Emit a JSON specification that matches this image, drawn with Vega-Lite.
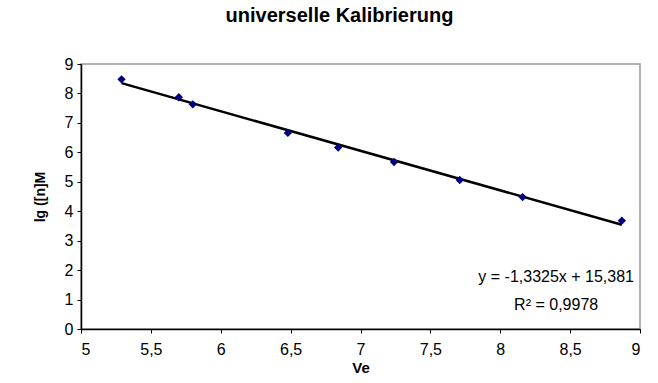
{
  "$schema": "https://vega.github.io/schema/vega-lite/v6.json",
  "width": 559,
  "height": 265,
  "autosize": {"type": "none"},
  "padding": {"left": 81, "top": 64, "right": 18, "bottom": 54},
  "background": "white",
  "title": {
    "text": "universelle Kalibrierung",
    "font": "Liberation Sans",
    "fontSize": 20,
    "fontWeight": "bold",
    "color": "black",
    "anchor": "middle",
    "frame": "group",
    "baseline": "alphabetic",
    "offset": 14,
    "dx": -21
  },
  "config": {
    "font": "Liberation Sans",
    "view": {"stroke": "#999999", "strokeWidth": 1.5},
    "axis": {
      "domainColor": "black",
      "domainWidth": 1.5,
      "tickColor": "black",
      "tickWidth": 1,
      "tickSize": 4,
      "grid": false,
      "labelColor": "black",
      "labelFont": "Liberation Sans",
      "titleFont": "Liberation Sans",
      "titleColor": "black",
      "titleFontWeight": "bold"
    }
  },
  "datasets": {
    "points": [
      {"Ve": 5.29, "lgM": 8.48},
      {"Ve": 5.70, "lgM": 7.87},
      {"Ve": 5.80, "lgM": 7.63},
      {"Ve": 6.48, "lgM": 6.66},
      {"Ve": 6.84, "lgM": 6.16},
      {"Ve": 7.24, "lgM": 5.67},
      {"Ve": 7.71, "lgM": 5.06},
      {"Ve": 8.16, "lgM": 4.48},
      {"Ve": 8.87, "lgM": 3.68}
    ],
    "notes": [
      {"Ve": 8.40, "lgM": 1.77, "label": "y = -1,3325x + 15,381"},
      {"Ve": 8.40, "lgM": 0.82, "label": "R² = 0,9978"}
    ]
  },
  "encoding": {
    "x": {
      "field": "Ve",
      "type": "quantitative",
      "scale": {"domain": [5, 9], "nice": false, "zero": false},
      "axis": {
        "title": "Ve",
        "values": [5, 5.5, 6, 6.5, 7, 7.5, 8, 8.5, 9],
        "labelExpr": "replace(format(datum.value, '~g'), '.', ',')",
        "labelFontSize": 16,
        "labelPadding": 8,
        "titleFontSize": 15,
        "titlePadding": 3
      }
    },
    "y": {
      "field": "lgM",
      "type": "quantitative",
      "scale": {"domain": [0, 9], "nice": false},
      "axis": {
        "title": "lg ([n]M",
        "values": [0, 1, 2, 3, 4, 5, 6, 7, 8, 9],
        "labelFontSize": 16,
        "labelPadding": 4,
        "titleFontSize": 14,
        "titlePadding": 17
      }
    }
  },
  "layer": [
    {
      "data": {"name": "points"},
      "transform": [{"regression": "lgM", "on": "Ve", "method": "linear"}],
      "mark": {"type": "line", "color": "black", "strokeWidth": 2.5}
    },
    {
      "data": {"name": "points"},
      "mark": {"type": "point", "shape": "diamond", "filled": true, "color": "#000080", "opacity": 1, "size": 70}
    },
    {
      "data": {"name": "notes"},
      "mark": {"type": "text", "align": "center", "baseline": "middle", "fontSize": 16, "font": "Liberation Sans", "color": "black"},
      "encoding": {"text": {"field": "label"}}
    }
  ]
}
